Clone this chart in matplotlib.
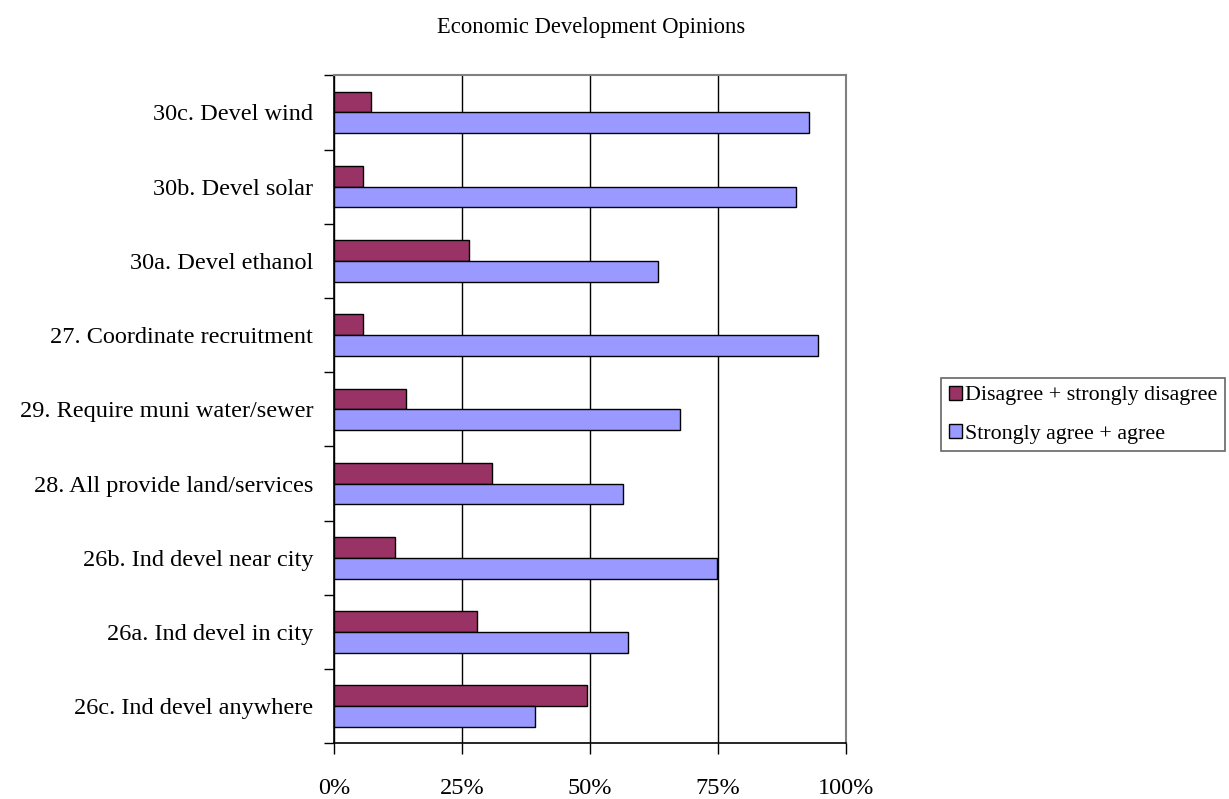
import matplotlib
matplotlib.use("Agg")
import matplotlib.pyplot as plt
import numpy as np
from matplotlib.ticker import FixedLocator, PercentFormatter

# Survey items, listed bottom to top as they appear on the axis
categories = [
    "26c. Ind devel anywhere",
    "26a. Ind devel in city",
    "26b. Ind devel near city",
    "28. All provide land/services",
    "29. Require muni water/sewer",
    "27. Coordinate recruitment",
    "30a. Devel ethanol",
    "30b. Devel solar",
    "30c. Devel wind",
]
disagree = [49.3, 28.0, 11.9, 30.9, 14.0, 5.6, 26.4, 5.6, 7.2]
agree = [39.3, 57.3, 74.8, 56.5, 67.5, 94.5, 63.3, 90.1, 92.8]
series_names = ["Disagree + strongly disagree", "Strongly agree + agree"]
x_ticks = [0, 25, 50, 75, 100]

plt.rcParams["font.family"] = ["Liberation Serif", "DejaVu Serif"]
FS_TICK = 17.5
FS_TEXT = 16.3
FS_LEG = 15.8

fig = plt.figure(figsize=(12.29, 7.99), dpi=100)
ax = fig.add_axes([334 / 1229, 1 - 743.3 / 799, (846.3 - 334) / 1229, (743.3 - 75.3) / 799])

y = np.arange(len(categories))
h = 0.28
ax.barh(y + h / 2, disagree, height=h, color="#993366", edgecolor="black",
        linewidth=1.0, label=series_names[0], zorder=3)
ax.barh(y - h / 2, agree, height=h, color="#9999FF", edgecolor="black",
        linewidth=1.0, label=series_names[1], zorder=3)

ax.set_xlim(0, 100)
ax.set_ylim(-0.5, len(categories) - 0.5)

# Vertical gridlines
ax.xaxis.set_major_locator(FixedLocator(x_ticks))
ax.xaxis.set_major_formatter(PercentFormatter(decimals=0))
ax.grid(axis="x", color="black", linewidth=1.0, zorder=0)
ax.tick_params(axis="x", direction="out", length=8, width=1, pad=17,
               labelsize=FS_TICK, colors="black")

# Category ticks sit between groups; labels centred on groups
ax.yaxis.set_major_locator(FixedLocator(np.arange(-0.5, len(categories), 1.0)))
ax.yaxis.set_major_formatter(plt.NullFormatter())
ax.yaxis.set_minor_locator(FixedLocator(y))
ax.set_yticklabels(categories, minor=True)
ax.tick_params(axis="y", which="major", direction="out", length=7, width=1)
ax.tick_params(axis="y", which="minor", length=0, pad=15, labelsize=FS_TICK)

for side in ("top", "right"):
    ax.spines[side].set_color("#808080")
    ax.spines[side].set_linewidth(1.5)
for side in ("left", "bottom"):
    ax.spines[side].set_color("black")
    ax.spines[side].set_linewidth(1.2)

fig.text(591 / 1229, 1 - 27 / 799, "Economic Development Opinions",
         ha="center", va="center", fontsize=FS_TEXT)

leg = fig.legend(loc="upper left", bbox_to_anchor=(941 / 1229, 1 - 378 / 799),
                 fontsize=FS_LEG, frameon=True, fancybox=False, borderpad=0.35,
                 handlelength=0.6, handleheight=0.6, handletextpad=0.15,
                 labelspacing=0.85, borderaxespad=0)
leg.get_frame().set_edgecolor("#404040")
leg.get_frame().set_linewidth(1.2)

fig.savefig("out.png", dpi=100)
